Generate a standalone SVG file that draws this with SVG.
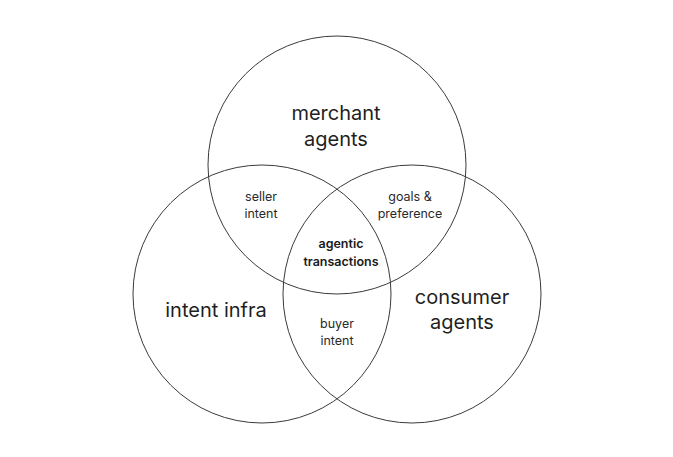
<svg xmlns="http://www.w3.org/2000/svg" width="673" height="457" viewBox="0 0 673 457">
<style>
.c{fill:none;stroke:#3a3a3a;stroke-width:1}
.big{font-family:Inter,"Noto Sans",sans-serif;font-size:20px;fill:#1f1f1f;text-anchor:middle}
.sm{font-family:Inter,"Noto Sans",sans-serif;font-size:12.5px;fill:#2a2a2a;text-anchor:middle}
.b{font-weight:600;fill:#1a1a1a}
</style>
<rect width="673" height="457" fill="#ffffff"/>
<g id="merchant">
<circle class="c" cx="337" cy="165" r="129"/>
<text class="big" x="336" y="120">merchant</text>
<text class="big" x="336" y="146">agents</text>
</g>
<g id="intent-infra">
<circle class="c" cx="262" cy="294" r="129"/>
<text class="big" x="216" y="317">intent infra</text>
</g>
<g id="consumer">
<circle class="c" cx="412" cy="294" r="129"/>
<text class="big" x="462" y="304">consumer</text>
<text class="big" x="462" y="329">agents</text>
</g>
<g id="seller-intent">
<text class="sm" x="261" y="201">seller</text>
<text class="sm" x="261" y="218">intent</text>
</g>
<g id="goals">
<text class="sm" x="410" y="201">goals &amp;</text>
<text class="sm" x="410" y="218">preference</text>
</g>
<g id="agentic">
<text class="sm b" x="341" y="248">agentic</text>
<text class="sm b" x="341" y="266">transactions</text>
</g>
<g id="buyer-intent">
<text class="sm" x="337" y="328">buyer</text>
<text class="sm" x="337" y="345">intent</text>
</g>
<g id="connectors"></g>
</svg>
